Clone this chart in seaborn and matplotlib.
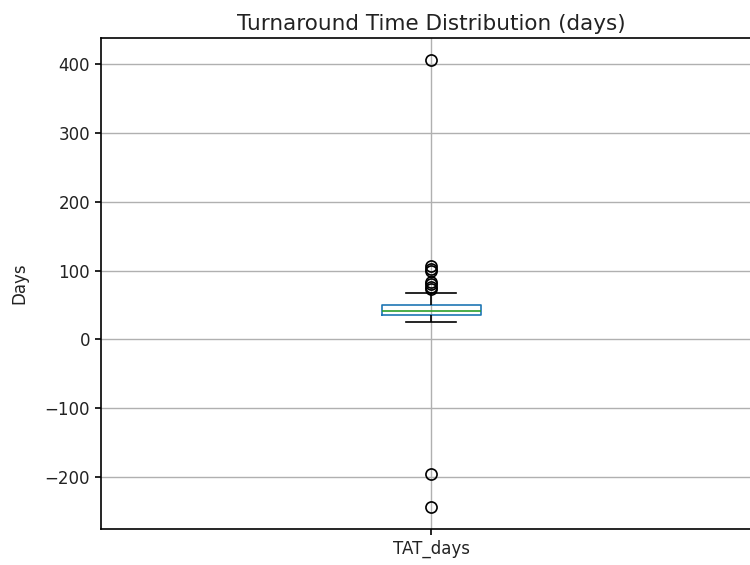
import numpy as np
import pandas as pd
import seaborn as sns
import matplotlib
matplotlib.use("Agg")
import matplotlib.pyplot as plt

# turnaround times in days
tat_core = [26, 28, 30, 31, 32, 33, 33, 34, 34, 35, 36, 36, 37, 37, 38, 38,
            39, 39, 40, 40, 41, 42, 43, 43, 44, 45, 46, 47, 48, 48, 49, 50,
            53, 59, 68]
tat_outliers = [-243, -196, 73, 76, 80, 84, 100, 103, 107, 406]
column_name = "TAT_days"

df = pd.DataFrame({column_name: tat_core + tat_outliers})
long_df = df.melt(var_name="column", value_name="value")

fig, ax = plt.subplots(figsize=(7.5, 5.65), dpi=100)
# the original image is cropped on the right, so the axes runs past the edge
fig.subplots_adjust(left=0.135, right=1.015, bottom=0.064, top=0.933)

sns.boxplot(
    data=long_df, x="column", y="value", ax=ax,
    width=0.15, fill=False, color="C0", linewidth=1.2,
    boxprops=dict(color="C0"),
    medianprops=dict(color="C2"),
    whiskerprops=dict(color="black"),
    capprops=dict(color="black"),
    flierprops=dict(marker="o", markerfacecolor="none",
                    markeredgecolor="black", markersize=8,
                    markeredgewidth=1.2),
)

ax.grid(True, linewidth=1.0)
ax.set_axisbelow(True)
ax.set_title("Turnaround Time Distribution (days)", fontsize=15.5, color="#222222")
ax.set_ylabel("Days", fontsize=12, labelpad=12, color="#222222")
ax.set_xlabel("")
ax.set_xlim(-0.5, 0.5)
ax.tick_params(labelsize=12, width=1.2, length=4.5, labelcolor="#222222")
for s in ax.spines.values():
    s.set_linewidth(1.2)

plt.savefig("out.png")
